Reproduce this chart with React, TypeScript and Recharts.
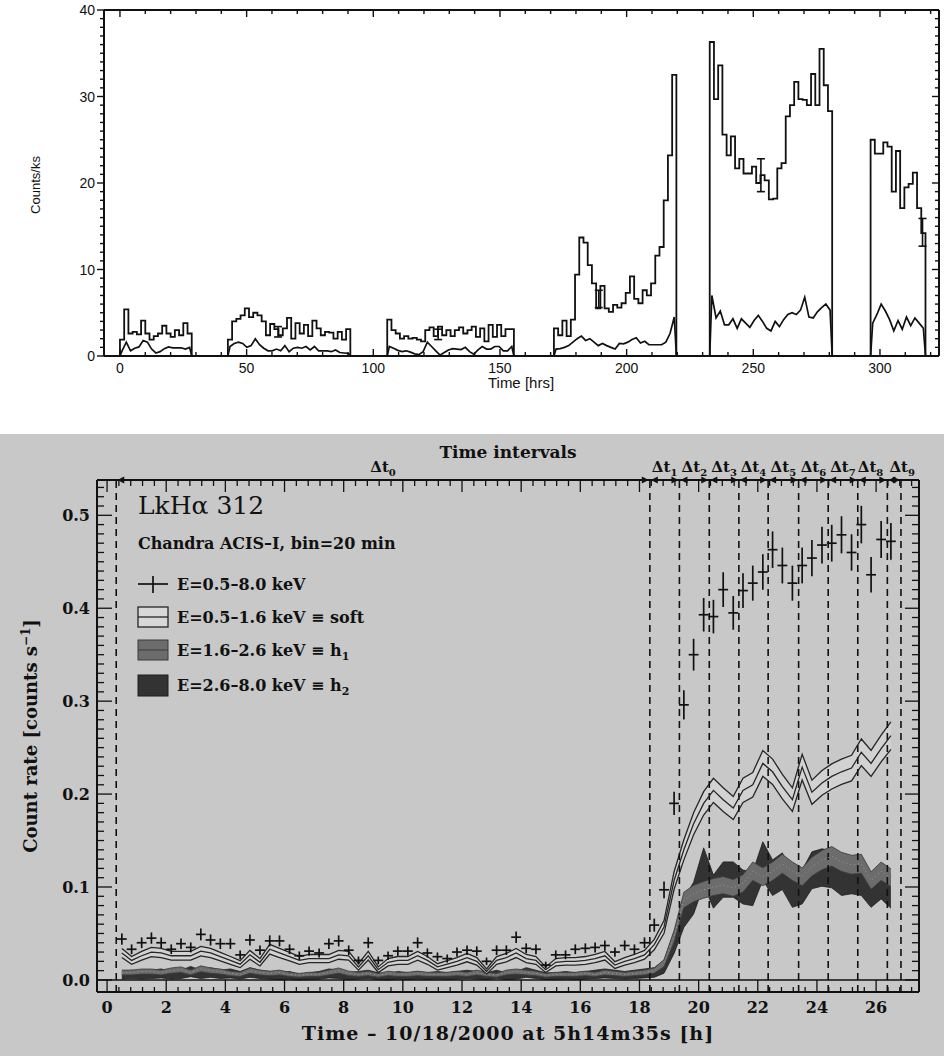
import React from 'react'
import {
  ComposedChart,
  Line,
  Area,
  Scatter,
  ErrorBar,
  XAxis,
  YAxis,
  ReferenceLine,
  ReferenceArea
} from 'recharts'

// ---- top panel: whole campaign, 6 ks bins ----
const binHrs = 6000 / 3600
const segStart = [0, 42.6, 105.5, 171.3, 232.8, 296.3]
const segTotal = [
  [1.9, 5.4, 2.6, 2.8, 2.5, 4.1, 2.6, 1.9, 2.3, 2.6, 3.5, 2.6, 2.2, 3.0, 2.4, 3.8, 2.6],
  [1.9, 4.0, 4.3, 4.7, 5.5, 4.5, 5.0, 4.7, 4.0, 2.4, 3.7, 3.1, 2.4, 3.2, 4.4, 2.0, 3.8, 2.6, 3.6, 2.3, 4.1, 3.2, 2.4, 2.8, 2.7, 2.0, 2.8, 1.9, 3.1],
  [4.2, 3.0, 2.6, 2.0, 2.3, 2.0, 2.1, 1.9, 1.7, 3.0, 3.3, 2.3, 3.4, 2.4, 3.0, 2.3, 3.0, 3.3, 2.6, 3.0, 3.4, 2.2, 3.2, 1.7, 3.6, 2.2, 3.6, 2.3, 3.1, 3.1],
  [3.2, 2.4, 4.1, 2.3, 4.2, 9.4, 13.7, 13.1, 10.5, 8.4, 5.5, 8.1, 5.5, 5.1, 5.9, 5.6, 6.1, 7.3, 9.2, 6.6, 6.1, 7.6, 7.0, 8.4, 11.6, 12.6, 18.0, 23.2, 32.5],
  [36.3, 29.7, 33.6, 25.6, 23.2, 25.4, 21.7, 22.8, 21.1, 21.1, 21.9, 20.0, 20.9, 20.3, 18.1, 18.2, 21.7, 22.3, 27.7, 29.0, 31.7, 29.7, 29.6, 29.0, 32.6, 29.0, 35.5, 31.3, 28.3],
  [25.0, 23.4, 23.4, 24.7, 24.2, 19.0, 23.7, 17.1, 19.5, 19.9, 21.2, 17.1, 14.2]
]
const segHard = [
  [0.6, 1.6, 0.6, 0.9, 1.05, 1.8, 1.6, 0.8, 0.35, 0.5, 0.85, 1.05, 0.95, 0.95, 0.95, 0.8, 1.0],
  [1.1, 1.45, 1.6, 1.45, 1.0, 1.2, 2.0, 1.3, 0.9, 0.6, 0.6, 0.8, 0.6, 1.2, 0.5, 0.9, 1.0, 0.9, 1.1, 0.7, 1.1, 0.6, 0.6, 0.6, 0.5, 0.7, 0.4, 0.35, 0.3],
  [1.1, 0.9, 0.65, 0.5, 0.6, 0.45, 0.25, 0.15, 0.5, 1.6, 1.1, 0.6, 0.1, 0.4, 0.7, 0.85, 0.8, 0.75, 1.0, 0.5, 0.2, 0.7, 1.1, 0.8, 0.8, 1.1, 1.1, 0.6, 0.6, 1.1],
  [0.8, 0.85, 1.0, 1.2, 1.6, 2.0, 2.3, 1.8, 2.0, 1.6, 1.2, 1.45, 1.2, 1.0, 0.8, 1.45, 1.4, 1.6, 1.9, 2.1, 1.5, 1.7, 1.3, 1.3, 1.3, 1.3, 1.6, 2.6, 4.5],
  [7.0, 4.4, 5.2, 3.6, 3.6, 4.3, 3.2, 4.3, 3.8, 3.3, 4.1, 4.7, 4.0, 3.2, 2.9, 4.0, 3.4, 4.2, 4.8, 5.0, 4.8, 5.3, 6.8, 4.5, 4.4, 5.1, 5.6, 6.0, 5.3],
  [3.8, 4.8, 6.0, 5.2, 4.2, 2.9, 4.1, 3.1, 4.5, 3.5, 4.4, 3.8, 3.2]
]
const errTime = [62.4, 125.6, 189.0, 253.0, 316.8]
const errRate = [2.8, 2.5, 6.6, 20.9, 14.3]
const errSize = [0.6, 0.6, 1.0, 1.9, 1.6]

// ---- bottom panel: LkHa 312, 20 min bins ----
const binSec = 1200
const times = [
  0.5, 0.83, 1.17, 1.5, 1.83, 2.17, 2.5, 2.83, 3.17, 3.5,
  3.83, 4.17, 4.5, 4.83, 5.17, 5.5, 5.83, 6.17, 6.5, 6.83,
  7.17, 7.5, 7.83, 8.17, 8.5, 8.83, 9.17, 9.5, 9.83, 10.17,
  10.5, 10.83, 11.17, 11.5, 11.83, 12.17, 12.5, 12.83, 13.17, 13.5,
  13.83, 14.17, 14.5, 14.83, 15.17, 15.5, 15.83, 16.17, 16.5, 16.83,
  17.17, 17.5, 17.83, 18.17, 18.5, 18.83, 19.17, 19.5, 19.83, 20.17,
  20.5, 20.83, 21.17, 21.5, 21.83, 22.17, 22.5, 22.83, 23.17, 23.5,
  23.83, 24.17, 24.5, 24.83, 25.17, 25.5, 25.83, 26.17, 26.5
]
const totalRate = [
  0.044, 0.033, 0.040, 0.045, 0.040, 0.033, 0.039, 0.035, 0.049, 0.043,
  0.039, 0.039, 0.027, 0.043, 0.032, 0.042, 0.042, 0.033, 0.026, 0.031,
  0.029, 0.039, 0.042, 0.032, 0.021, 0.040, 0.021, 0.026, 0.031, 0.031,
  0.040, 0.029, 0.025, 0.023, 0.030, 0.032, 0.031, 0.020, 0.032, 0.032,
  0.046, 0.034, 0.033, 0.016, 0.027, 0.027, 0.033, 0.034, 0.035, 0.037,
  0.030, 0.037, 0.033, 0.040, 0.059, 0.097, 0.190, 0.296, 0.350, 0.393,
  0.391, 0.420, 0.395, 0.419, 0.427, 0.439, 0.463, 0.446, 0.427, 0.446,
  0.454, 0.468, 0.470, 0.479, 0.460, 0.490, 0.436, 0.474, 0.472
]
const softRate = [
  0.029, 0.021, 0.026, 0.030, 0.029, 0.026, 0.026, 0.026, 0.031, 0.029,
  0.025, 0.021, 0.017, 0.027, 0.019, 0.033, 0.029, 0.025, 0.021, 0.023,
  0.023, 0.023, 0.027, 0.026, 0.014, 0.026, 0.011, 0.019, 0.021, 0.021,
  0.026, 0.021, 0.014, 0.017, 0.020, 0.024, 0.020, 0.009, 0.021, 0.024,
  0.029, 0.023, 0.021, 0.011, 0.019, 0.020, 0.020, 0.021, 0.023, 0.026,
  0.016, 0.020, 0.023, 0.027, 0.038, 0.057, 0.107, 0.140, 0.168, 0.190,
  0.204, 0.194, 0.185, 0.204, 0.210, 0.233, 0.224, 0.208, 0.194, 0.229,
  0.202, 0.212, 0.219, 0.224, 0.228, 0.245, 0.233, 0.249, 0.263
]
const h1Rate = [
  0.008, 0.008, 0.009, 0.009, 0.008, 0.010, 0.011, 0.008, 0.012, 0.010,
  0.009, 0.007, 0.006, 0.010, 0.008, 0.007, 0.008, 0.006, 0.005, 0.006,
  0.006, 0.008, 0.010, 0.007, 0.006, 0.007, 0.005, 0.007, 0.006, 0.006,
  0.007, 0.006, 0.006, 0.006, 0.007, 0.006, 0.008, 0.006, 0.005, 0.008,
  0.009, 0.008, 0.007, 0.005, 0.006, 0.006, 0.006, 0.007, 0.006, 0.008,
  0.007, 0.006, 0.007, 0.008, 0.010, 0.018, 0.047, 0.086, 0.093, 0.097,
  0.100, 0.102, 0.099, 0.104, 0.117, 0.111, 0.117, 0.125, 0.117, 0.111,
  0.122, 0.129, 0.133, 0.127, 0.124, 0.125, 0.107, 0.117, 0.110
]
const h2Rate = [
  0.005, 0.006, 0.005, 0.006, 0.007, 0.005, 0.006, 0.009, 0.006, 0.008,
  0.006, 0.007, 0.005, 0.008, 0.006, 0.005, 0.004, 0.005, 0.003, 0.004,
  0.005, 0.007, 0.006, 0.004, 0.005, 0.006, 0.004, 0.003, 0.005, 0.004,
  0.005, 0.004, 0.005, 0.004, 0.005, 0.006, 0.005, 0.004, 0.006, 0.004,
  0.005, 0.008, 0.006, 0.004, 0.004, 0.005, 0.004, 0.005, 0.006, 0.007,
  0.006, 0.005, 0.006, 0.007, 0.008, 0.014, 0.040, 0.072, 0.088, 0.122,
  0.095, 0.108, 0.108, 0.100, 0.098, 0.128, 0.110, 0.117, 0.096, 0.100,
  0.118, 0.121, 0.119, 0.110, 0.112, 0.110, 0.096, 0.106, 0.095
]
// the hard band is drawn wider than one sigma (fewer counts in that band)
const h2Spread = 2
const intervalEdges = [0.31, 18.35, 19.35, 20.36, 21.36, 22.35, 23.38, 24.38, 25.38, 26.38, 26.84]

// build the step histogram and the hard-band polyline, with a null row between segments
const stepRows: { t: number; v: number | null }[] = []
const hardRows: { t: number; v: number | null }[] = []
segStart.forEach((t0, s) => {
  const vals = segTotal[s]
  const tEnd = t0 + vals.length * binHrs
  stepRows.push({ t: t0, v: 0 })
  vals.forEach((v, i) => stepRows.push({ t: t0 + i * binHrs, v }))
  stepRows.push({ t: tEnd, v: vals[vals.length - 1] })
  stepRows.push({ t: tEnd, v: 0 })
  stepRows.push({ t: tEnd + 1, v: null })
  hardRows.push({ t: t0, v: 0 })
  segHard[s].forEach((v, i) => hardRows.push({ t: t0 + (i + 0.5) * binHrs, v }))
  hardRows.push({ t: tEnd, v: 0 })
  hardRows.push({ t: tEnd + 1, v: null })
})
const errRows = errTime.map((t, i) => ({ t, v: errRate[i], e: errSize[i] }))

// poisson error of a rate measured in one 20 min bin
const pois = (r: number) => Math.sqrt(r / binSec)
const rows = times.map((t, i) => ({
  t,
  tot: totalRate[i],
  totErr: pois(totalRate[i]),
  tHalf: binSec / 7200,
  soft: [softRate[i] - pois(softRate[i]), softRate[i] + pois(softRate[i])],
  softMid: softRate[i],
  h1: [h1Rate[i] - pois(h1Rate[i]), h1Rate[i] + pois(h1Rate[i])],
  h1Mid: h1Rate[i],
  h2: [h2Rate[i] - h2Spread * pois(h2Rate[i]), h2Rate[i] + h2Spread * pois(h2Rate[i])]
}))

const topXTicks = Array.from({ length: 33 }, (_, k) => k * 10)
const topYTicks = Array.from({ length: 41 }, (_, k) => k)
const botXTicks = Array.from({ length: 69 }, (_, k) => +(k * 0.4).toFixed(1))
const botYTicks = Array.from({ length: 54 }, (_, k) => +(k / 100).toFixed(2))

const SANS = "'Liberation Sans', Arial, sans-serif"
const SERIF = "'DejaVu Serif', serif"
const INK = '#111'

type TickSpec = {
  side: 'bottom' | 'top' | 'left' | 'right'
  isMajor: (v: number) => boolean
  major: number
  minor: number
  width: number
  label?: (v: number) => string
  gap?: number
  shift?: number
  font?: { fontFamily: string; fontSize: number; fontWeight?: string | number }
}

// custom ticks: tickSize=0 so x/y sit on the axis line; positive length points into the plot
const makeTick = (s: TickSpec) => (p: any) => {
  const { x, y, payload } = p
  const v = payload.value
  const big = s.isMajor(v)
  const len = big ? s.major : s.minor
  let x2 = x
  let y2 = y
  if (s.side === 'bottom') y2 = y - len
  if (s.side === 'top') y2 = y + len
  if (s.side === 'left') x2 = x + len
  if (s.side === 'right') x2 = x - len
  const txt = big && s.label ? s.label(v) : null
  return (
    <g>
      {len !== 0 && <line x1={x} y1={y} x2={x2} y2={y2} stroke={INK} strokeWidth={s.width} />}
      {txt !== null && s.side === 'bottom' && (
        <text x={x} y={y + (s.gap || 0)} textAnchor="middle" fill={INK} {...s.font}>{txt}</text>
      )}
      {txt !== null && s.side === 'left' && (
        <text x={x - (s.gap || 0)} y={y + (s.shift || 0)} textAnchor="end" fill={INK} {...s.font}>{txt}</text>
      )}
    </g>
  )
}

const near = (v: number, step: number) => Math.abs(v / step - Math.round(v / step)) < 1e-6
const noShape = () => <g />

const axisCommon = {
  tickLine: false,
  tickSize: 0,
  tickMargin: 0,
  interval: 0 as const,
  allowDataOverflow: true
}

const TOP_X: [number, number] = [-6.3, 323.3]
const TOP_Y: [number, number] = [0, 40]
// plot box of the top panel (margins below: left axis 104 wide, x axis 44 high)
const BOX = { left: 104, right: 939, top: 10, bottom: 356 }

const TopPanel = () => {
  const axisLine = { stroke: INK, strokeWidth: 2 }
  const tFont = { fontFamily: SANS, fontSize: 14 }
  return (
    <ComposedChart width={944} height={400} data={stepRows} margin={{ top: 10, right: 5, left: 0, bottom: 0 }}>
      <XAxis xAxisId="b" dataKey="t" type="number" domain={TOP_X} ticks={topXTicks} height={44}
        axisLine={axisLine} {...axisCommon}
        tick={makeTick({ side: 'bottom', isMajor: v => near(v, 50), major: 0, minor: 0, width: 1.2,
          label: v => String(v), gap: 17, font: tFont })} />
      <YAxis yAxisId="l" type="number" domain={TOP_Y} ticks={topYTicks} width={104}
        axisLine={axisLine} {...axisCommon}
        tick={makeTick({ side: 'left', isMajor: v => near(v, 10), major: 0, minor: 0, width: 1.2,
          label: v => String(v), gap: 9, shift: 5, font: tFont })} />

      <Line xAxisId="b" yAxisId="l" data={hardRows} dataKey="v" type="linear" stroke={INK} strokeWidth={1.7}
        dot={false} activeDot={false} connectNulls={false} isAnimationActive={false} />
      <Line xAxisId="b" yAxisId="l" dataKey="v" type="stepAfter" stroke={INK} strokeWidth={1.8}
        dot={false} activeDot={false} connectNulls={false} isAnimationActive={false} />
      <Scatter xAxisId="b" yAxisId="l" data={errRows} dataKey="v" shape={noShape} isAnimationActive={false}>
        <ErrorBar dataKey="e" direction="y" width={4} stroke={INK} strokeWidth={1.6} isAnimationActive={false} />
      </Scatter>
    </ComposedChart>
  )
}

// frame and tick marks of the top panel, on the same linear mapping as the axes above
const TopFrame = () => {
  const sx = (t: number) => BOX.left + ((t - TOP_X[0]) / (TOP_X[1] - TOP_X[0])) * (BOX.right - BOX.left)
  const sy = (v: number) => BOX.bottom - ((v - TOP_Y[0]) / (TOP_Y[1] - TOP_Y[0])) * (BOX.bottom - BOX.top)
  return (
    <g>
      <line x1={BOX.left} y1={BOX.top} x2={BOX.right} y2={BOX.top} stroke={INK} strokeWidth={2} />
      <line x1={BOX.right} y1={BOX.top} x2={BOX.right} y2={BOX.bottom} stroke={INK} strokeWidth={2} />
      {topXTicks.map(t => {
        const len = near(t, 50) ? 7 : 4
        const x = sx(t)
        return (
          <g key={`x${t}`}>
            <line x1={x} y1={BOX.bottom} x2={x} y2={BOX.bottom - len} stroke={INK} strokeWidth={1.4} />
            <line x1={x} y1={BOX.top} x2={x} y2={BOX.top + len} stroke={INK} strokeWidth={1.4} />
          </g>
        )
      })}
      {topYTicks.map(v => {
        const len = near(v, 10) ? 7 : 4
        const y = sy(v)
        return (
          <g key={`y${v}`}>
            <line x1={BOX.left} y1={y} x2={BOX.left - len} y2={y} stroke={INK} strokeWidth={1.4} />
            <line x1={BOX.right} y1={y} x2={BOX.right - len} y2={y} stroke={INK} strokeWidth={1.4} />
          </g>
        )
      })}
    </g>
  )
}

const IntervalMark = (props: any) => {
  const { viewBox, k } = props
  if (!viewBox) return null
  const { x, y, width } = viewBox
  const r = x + width
  const shift = k === 9 ? 8 : k === 8 ? -2 : 0
  return (
    <g>
      <polygon points={`${x + 1},${y} ${x + 8},${y - 3.5} ${x + 8},${y + 3.5}`} fill={INK} />
      <polygon points={`${r - 1},${y} ${r - 8},${y - 3.5} ${r - 8},${y + 3.5}`} fill={INK} />
      <text x={x + width / 2 + shift} y={y - 8} textAnchor="middle" fill={INK}
        fontFamily={SERIF} fontSize={15} fontWeight="bold">
        Δt<tspan dy={4} fontSize={10}>{k}</tspan>
      </text>
    </g>
  )
}

const BottomPanel = () => {
  const axisLine = { stroke: INK, strokeWidth: 2 }
  const tFont = { fontFamily: SERIF, fontSize: 16, fontWeight: 'bold' }
  return (
    <ComposedChart width={944} height={624} data={rows} margin={{ top: 47, right: 24, left: 0, bottom: 0 }}>
      <XAxis xAxisId="b" dataKey="t" type="number" domain={[-0.34, 27.45]} ticks={botXTicks} height={64}
        axisLine={axisLine} {...axisCommon}
        tick={makeTick({ side: 'bottom', isMajor: v => near(v, 2), major: 12, minor: 5, width: 1.3,
          label: v => String(Math.round(v)), gap: 21, font: tFont })} />
      <XAxis xAxisId="t" orientation="top" dataKey="t" type="number" domain={[-0.34, 27.45]} ticks={botXTicks} height={1}
        axisLine={axisLine} {...axisCommon}
        tick={makeTick({ side: 'top', isMajor: v => near(v, 2), major: 12, minor: 6, width: 1.3 })} />
      <YAxis yAxisId="l" type="number" domain={[-0.013, 0.538]} ticks={botYTicks} width={97}
        axisLine={axisLine} {...axisCommon}
        tick={makeTick({ side: 'left', isMajor: v => near(v, 0.1), major: 15, minor: 7, width: 1.3,
          label: v => v.toFixed(1), gap: 7, shift: 6, font: tFont })} />
      <YAxis yAxisId="r" orientation="right" type="number" domain={[-0.013, 0.538]} ticks={botYTicks} width={1}
        axisLine={axisLine} {...axisCommon}
        tick={makeTick({ side: 'right', isMajor: v => near(v, 0.1), major: 14, minor: 7, width: 1.3 })} />

      <ReferenceLine xAxisId="b" yAxisId="l" y={0} stroke={INK} strokeWidth={1.5} />
      {intervalEdges.map(e => (
        <ReferenceLine key={`e${e}`} xAxisId="b" yAxisId="l" x={e} stroke={INK} strokeWidth={1.6}
          strokeDasharray="7 5" />
      ))}
      {intervalEdges.slice(0, -1).map((e, k) => (
        <ReferenceArea key={`a${k}`} xAxisId="b" yAxisId="l" x1={e} x2={intervalEdges[k + 1]}
          fill="none" fillOpacity={0} stroke="none" ifOverflow="visible"
          label={(p: any) => <IntervalMark {...p} k={k} />} />
      ))}

      <Area xAxisId="b" yAxisId="l" dataKey="h2" type="linear" fill="#333" fillOpacity={1}
        stroke="#1e1e1e" strokeWidth={0.8} isAnimationActive={false} activeDot={false} />
      <Area xAxisId="b" yAxisId="l" dataKey="h1" type="linear" fill="#6c6c6c" fillOpacity={1}
        stroke="#3a3a3a" strokeWidth={0.8} isAnimationActive={false} activeDot={false} />
      <Line xAxisId="b" yAxisId="l" dataKey="h1Mid" type="linear" stroke="#9a9a9a" strokeWidth={1}
        strokeDasharray="1 3" dot={false} activeDot={false} isAnimationActive={false} />
      <Area xAxisId="b" yAxisId="l" dataKey="soft" type="linear" fill="#d2d2d2" fillOpacity={1}
        stroke="#262626" strokeWidth={1.3} isAnimationActive={false} activeDot={false} />
      <Line xAxisId="b" yAxisId="l" dataKey="softMid" type="linear" stroke="#262626" strokeWidth={1.3}
        dot={false} activeDot={false} isAnimationActive={false} />
      <Scatter xAxisId="b" yAxisId="l" data={rows} dataKey="tot" shape={noShape} isAnimationActive={false}>
        <ErrorBar dataKey="totErr" direction="y" width={0} stroke={INK} strokeWidth={1.7} isAnimationActive={false} />
        <ErrorBar dataKey="tHalf" direction="x" width={0} stroke={INK} strokeWidth={1.7} isAnimationActive={false} />
      </Scatter>
      {/* invisible series so the mirrored axes get a domain */}
      <Line xAxisId="t" yAxisId="r" dataKey="softMid" stroke="none" dot={false} activeDot={false}
        isAnimationActive={false} />
    </ComposedChart>
  )
}

const Overlay = () => {
  const b = { fontFamily: SERIF, fontWeight: 'bold' as const, fill: INK }
  return (
    <svg width={944} height={1056} style={{ position: 'absolute', left: 0, top: 0, pointerEvents: 'none' }}>
      <TopFrame />
      {/* top panel titles */}
      <text x={521} y={388} textAnchor="middle" fontFamily={SANS} fontSize={15} fill={INK}>Time [hrs]</text>
      <text transform="translate(40,185) rotate(-90)" textAnchor="middle" fontFamily={SANS} fontSize={13} fill={INK}>
        Counts/ks
      </text>

      {/* bottom panel titles */}
      <text x={508} y={458} textAnchor="middle" fontSize={17} {...b}>Time intervals</text>
      <text x={508} y={1040} textAnchor="middle" fontSize={19} letterSpacing={1} {...b}>
        Time – 10/18/2000 at 5h14m35s [h]
      </text>
      <text transform="translate(37,736) rotate(-90)" textAnchor="middle" fontSize={18} {...b}>
        Count rate [counts s<tspan dy={-7} fontSize={12}>−1</tspan><tspan dy={7}>]</tspan>
      </text>

      {/* source name and legend */}
      <text x={138} y={514} fontFamily={SERIF} fontSize={25} fill={INK}>LkHα 312</text>
      <text x={138} y={549} fontSize={16} {...b}>Chandra ACIS–I, bin=20 min</text>

      <line x1={138} y1={584} x2={168} y2={584} stroke={INK} strokeWidth={1.7} />
      <line x1={153} y1={576} x2={153} y2={593} stroke={INK} strokeWidth={1.7} />
      <text x={177} y={590} fontSize={16} {...b}>E=0.5–8.0 keV</text>

      <rect x={138} y={607} width={30} height={20} fill="#d8d8d8" stroke="#262626" strokeWidth={1.3} />
      <line x1={138} y1={617} x2={168} y2={617} stroke="#262626" strokeWidth={1.3} />
      <text x={177} y={623} fontSize={16} {...b}>E=0.5–1.6 keV ≡ soft</text>

      <rect x={138} y={640} width={30} height={20} fill="#6c6c6c" stroke="#3a3a3a" strokeWidth={1} />
      <line x1={138} y1={650} x2={168} y2={650} stroke="#3a3a3a" strokeWidth={1} />
      <text x={177} y={656} fontSize={16} {...b}>
        E=1.6–2.6 keV ≡ h<tspan dy={4} fontSize={11}>1</tspan>
      </text>

      <rect x={138} y={675} width={30} height={21} fill="#333" stroke="#1e1e1e" strokeWidth={1} />
      <text x={177} y={691} fontSize={16} {...b}>
        E=2.6–8.0 keV ≡ h<tspan dy={4} fontSize={11}>2</tspan>
      </text>
    </svg>
  )
}

export default function App() {
  return (
    <div style={{ position: 'absolute', left: 0, top: 0, width: 944, height: 1056, background: '#fff', overflow: 'hidden' }}>
      <div style={{ position: 'absolute', left: 0, top: 0 }}>
        <TopPanel />
      </div>
      <div style={{ position: 'absolute', left: 0, top: 434, width: 944, height: 622, background: '#c8c8c8' }} />
      <div style={{ position: 'absolute', left: 0, top: 432 }}>
        <BottomPanel />
      </div>
      <Overlay />
    </div>
  )
}
